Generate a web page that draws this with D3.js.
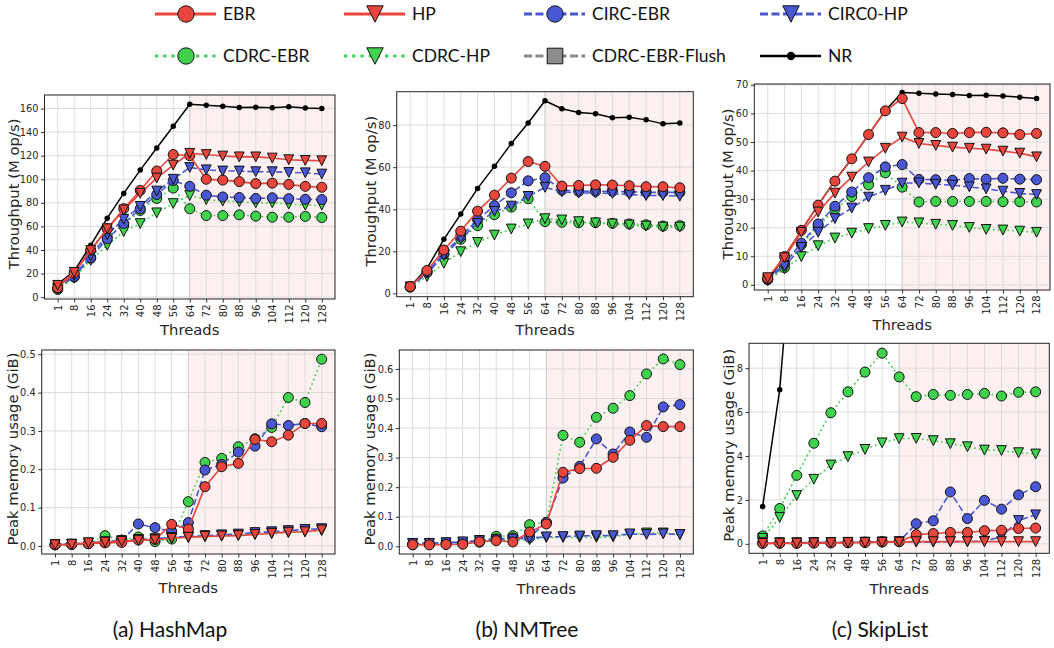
<!DOCTYPE html>
<html><head><meta charset="utf-8">
<script src="https://cdn.jsdelivr.net/npm/d3@7"></script>
<style>body{margin:0;background:#fff} svg{display:block}</style>
</head><body><svg id="c" width="1054" height="648"></svg>
<script>
const threads = [1,8,16,24,32,40,48,56,64,72,80,88,96,104,112,120,128];
const seriesNames = ["EBR","HP","CIRC-EBR","CIRC0-HP","CDRC-EBR","CDRC-HP","CDRC-EBR-Flush","NR"];
const captions = ["(a) HashMap","(b) NMTree","(c) SkipList"];
const thrTicksA = [0,20,40,60,80,100,120,140,160];
const thrTicksB = [0,20,40,60,80];
const thrTicksC = [0,10,20,30,40,50,60,70];
const memTicksA = [0.0,0.1,0.2,0.3,0.4,0.5];
const memTicksB = [0.0,0.1,0.2,0.3,0.4,0.5,0.6];
const memTicksC = [0,2,4,6,8];

// (a) HashMap throughput (M op/s)
const hmThrNR   = [11,22,44,67,88,107.8,126.5,145,163.7,162.8,162,160.8,161,160.6,161.5,160.5,160];
const hmThrEBR  = [8,20.5,40,58,75,90.5,107,121,120,100,99.3,98,96.3,96.7,95.6,94,93.2];
const hmThrHP   = [10,21,39.5,58,74,88,101,112,122,121,119.7,119,119,118,116.6,116,115.7];
const hmThrCE   = [7.5,17.5,33.5,49.5,62.5,75,87,99,94,86.5,85,84.5,83.7,84.3,83.5,83,82.8];
const hmThrCH   = [8,18.5,35,53,66,77,90,100,110,108,107,107,106.4,106.4,105.8,105.5,104.4];
const hmThrDE   = [6.5,17,33,51,61,73.5,83.7,92.5,75,69.2,69.2,69.8,68.7,67.8,67.8,68.5,67.5];
const hmThrDH   = [7,16,31.2,44,55.6,62.4,71.5,79.4,86.2,82.8,81.5,81,80,80,79,78,78];
// (b) NMTree throughput
const nmThrNR   = [3.2,11.9,25.7,37.7,49.9,60.4,71.3,81,91.6,87.8,86,85.4,83.5,83.8,82.5,80.6,81];
const nmThrEBR  = [3.2,10.9,20.6,29.6,39.1,46.7,54.8,62.7,60.4,51,51.3,51.6,51.5,51.2,50.7,50.7,50.2];
const nmThrCE   = [3,10,19,27,35,41.7,47.8,53.5,55,49.1,48.5,48.5,48.5,48.3,48,48,48];
const nmThrCH   = [3,9.5,18,26,33.3,39,41.5,46.1,50.4,48.3,47.7,47.7,47.5,47,46.5,46.5,46.2];
const nmThrDE   = [3,10,18.5,25.7,32.2,37.4,41,45,34.1,33.8,33.6,33.6,33.3,33,32.6,32,32.2];
const nmThrDH   = [3,8,14.3,19.8,24.2,27.7,30.6,33,35.5,34.9,34.1,33.5,33,32.5,32,31.5,31.5];
// (c) SkipList throughput
const slThrNR   = [1.2,10,19,28,36.5,44.2,52.6,61,67.3,67.1,66.8,66.6,66.3,66.4,66.1,65.7,65.2];
const slThrEBR  = [2.3,9.9,19.1,27.9,36.3,44.1,52.6,60.9,65.2,53.3,53.3,53,53.3,53.4,53.2,52.6,53];
const slThrHP   = [2.5,9.5,18.4,25.5,32.1,37.7,43,47.8,51.7,49.5,48.8,48.2,47.8,47.5,46.8,46.1,44.8];
const slThrCE   = [2,7.5,14.6,21.3,27.5,32.5,37.5,41.3,42.1,36.9,36.8,36.6,37.2,37,37.3,37,36.8];
const slThrCH   = [2,6.5,13.1,18.4,23.2,26.9,30.7,33.1,35.6,35.7,35.2,34.9,34.3,33.6,32.8,32,31.6];
const slThrDE   = [1.8,6,14,20.5,26.6,30.9,35,39.2,34.2,29,29.2,29.2,29.2,29.2,29.1,29.1,29];
const slThrDH   = [1.5,5.6,9.9,13.7,16.4,18.1,19.7,20.8,22,21.7,21.2,20.8,20.1,19.4,19.2,18.8,18.4];
// (a) HashMap peak memory (GiB)
const hmMemEBR  = [0.003,0.004,0.006,0.008,0.009,0.0156,0.017,0.0564,0.0443,0.1545,0.2066,0.2153,0.2778,0.2717,0.289,0.3194,0.3194];
const hmMemHP   = [0.003,0.004,0.008,0.01,0.012,0.015,0.016,0.02,0.0226,0.025,0.026,0.027,0.03,0.033,0.036,0.037,0.0417];
const hmMemCE   = [0.003,0.004,0.006,0.01,0.015,0.0573,0.0477,0.0373,0.0608,0.198,0.2127,0.2448,0.2604,0.3186,0.3142,0.3194,0.3108];
const hmMemCH   = [0.003,0.005,0.008,0.011,0.014,0.017,0.019,0.022,0.025,0.027,0.029,0.031,0.035,0.037,0.04,0.043,0.045];
const hmMemDE   = [0.003,0.004,0.006,0.0269,0.015,0.0234,0.0113,0.018,0.1155,0.2179,0.2283,0.2587,0.2795,0.309,0.3872,0.3741,0.487];
const hmMemDH   = [0.003,0.004,0.007,0.009,0.011,0.014,0.016,0.019,0.022,0.024,0.026,0.028,0.03,0.032,0.035,0.037,0.04];
// (b) NMTree peak memory
const nmMemEBR  = [0.0056,0.005,0.006,0.007,0.0158,0.019,0.0147,0.0485,0.0756,0.2504,0.2628,0.2639,0.3011,0.3586,0.4083,0.4049,0.405];
const nmMemCE   = [0.008,0.01,0.012,0.014,0.018,0.025,0.028,0.03,0.081,0.2312,0.2707,0.3631,0.3124,0.3868,0.3688,0.4714,0.4793];
const nmMemCH   = [0.01,0.01,0.012,0.015,0.02,0.022,0.025,0.028,0.032,0.033,0.035,0.036,0.036,0.042,0.04,0.042,0.04];
const nmMemDE   = [0.005,0.006,0.008,0.01,0.014,0.0338,0.036,0.0733,0.081,0.3755,0.3519,0.4364,0.4669,0.5098,0.583,0.6338,0.6146];
const nmMemDH   = [0.008,0.009,0.011,0.013,0.016,0.018,0.02,0.022,0.03,0.03,0.03,0.03,0.032,0.04,0.045,0.045,0.04];
// (c) SkipList peak memory
const slMemNR   = [1.7,7.02,16.5,null,null,null,null,null,null,null,null,null,null,null,null,null,null];
const slMemEBR  = [0.02,0.02,0.02,0.03,0.04,0.05,0.06,0.08,0.1,0.42,0.47,0.52,0.52,0.6,0.62,0.7,0.72];
const slMemHP   = [0.02,0.03,0.03,0.04,0.05,0.06,0.06,0.07,0.08,0.1,0.1,0.1,0.1,0.1,0.1,0.1,0.1];
const slMemCE   = [0.05,0.05,0.05,0.06,0.06,0.07,0.08,0.1,0.1,0.92,1.05,2.36,1.15,1.98,1.58,2.23,2.6];
const slMemCH   = [0.05,0.05,0.05,0.06,0.06,0.07,0.08,0.09,0.1,0.08,0.08,0.1,0.1,0.12,0.33,1.06,1.32];
const slMemDE   = [0.36,1.61,3.12,4.58,5.97,6.92,7.82,8.68,7.6,6.7,6.8,6.76,6.8,6.85,6.73,6.9,6.92];
const slMemDH   = [0.25,1.2,2.2,2.94,3.59,3.97,4.3,4.6,4.79,4.8,4.7,4.56,4.42,4.27,4.25,4.15,4.09];

// ---------- styles ----------
const RED="#e8453c", BLUE="#4a57d2", GREEN="#3fd24c", GRAY="#8a8a8a";
const style = {
  "EBR":{color:RED, fill:RED, dash:null, marker:"circle"},
  "HP":{color:RED, fill:RED, dash:null, marker:"tri"},
  "CIRC-EBR":{color:BLUE, fill:BLUE, dash:"6.5,3", marker:"circle"},
  "CIRC0-HP":{color:BLUE, fill:BLUE, dash:"6.5,3", marker:"tri"},
  "CDRC-EBR":{color:GREEN, fill:GREEN, dash:"1.8,3", marker:"circle"},
  "CDRC-HP":{color:GREEN, fill:GREEN, dash:"1.8,3", marker:"tri"},
  "CDRC-EBR-Flush":{color:GRAY, fill:"#8c8c8c", dash:"6.5,3", marker:"square"},
  "NR":{color:"#000", fill:"#000", dash:null, marker:"dot"}
};
const drawOrder = ["NR","CDRC-EBR","CDRC-HP","CIRC-EBR","CIRC0-HP","EBR","HP"];

const panels = [
  {box:[44.5,95,335,299], y:[-1.6,171.5], ticks:thrTicksA, fmt:d3.format("d"), ylab:"Throughput (M op/s)", ylx:14, xlb:335,
   data:{"NR":hmThrNR,"EBR":hmThrEBR,"HP":hmThrHP,"CIRC-EBR":hmThrCE,"CIRC0-HP":hmThrCH,"CDRC-EBR":hmThrDE,"CDRC-HP":hmThrDH}},
  {box:[396.7,91.7,693.3,296.7], y:[-1.6,95.9], ticks:thrTicksB, fmt:d3.format("d"), ylab:"Throughput (M op/s)", ylx:371, xlb:335,
   data:{"NR":nmThrNR,"EBR":nmThrEBR,"CIRC-EBR":nmThrCE,"CIRC0-HP":nmThrCH,"CDRC-EBR":nmThrDE,"CDRC-HP":nmThrDH}},
  {box:[754.3,84,1050,290], y:[-1.8,70.3], ticks:thrTicksC, fmt:d3.format("d"), ylab:"Throughput (M op/s)", ylx:728, xlb:330,
   data:{"NR":slThrNR,"EBR":slThrEBR,"HP":slThrHP,"CIRC-EBR":slThrCE,"CIRC0-HP":slThrCH,"CDRC-EBR":slThrDE,"CDRC-HP":slThrDH}},
  {box:[41.7,350,335,554], y:[-0.021,0.511], ticks:memTicksA, fmt:d3.format(".1f"), ylab:"Peak memory usage (GiB)", ylx:13, xlb:593,
   data:{"EBR":hmMemEBR,"HP":hmMemHP,"CIRC-EBR":hmMemCE,"CIRC0-HP":hmMemCH,"CDRC-EBR":hmMemDE,"CDRC-HP":hmMemDH}},
  {box:[399.3,350,693.3,554], y:[-0.026,0.664], ticks:memTicksB, fmt:d3.format(".1f"), ylab:"Peak memory usage (GiB)", ylx:370, xlb:594,
   data:{"EBR":nmMemEBR,"CIRC-EBR":nmMemCE,"CIRC0-HP":nmMemCH,"CDRC-EBR":nmMemDE,"CDRC-HP":nmMemDH}},
  {box:[749,343.3,1049.3,553.3], y:[-0.43,9.13], ticks:memTicksC, fmt:d3.format("d"), ylab:"Peak memory usage (GiB)", ylx:729, xlb:594,
   data:{"NR":slMemNR,"EBR":slMemEBR,"HP":slMemHP,"CIRC-EBR":slMemCE,"CIRC0-HP":slMemCH,"CDRC-EBR":slMemDE,"CDRC-HP":slMemDH}}
];

const svg = d3.select("#c");
const TICKF = "DejaVu Sans, sans-serif";
const TXT = "#262626";

function markerPath(type, s){
  if(type==="tri") return `M${-s},${-s}L${s},${-s}L0,${s}Z`;
  if(type==="square") return `M${-s},${-s}H${s}V${s}H${-s}Z`;
  return null;
}
function drawMarker(g, type, x, y, s, st){
  if(type==="circle"){
    g.append("circle").attr("cx",x).attr("cy",y).attr("r",s).attr("fill",st.fill).attr("stroke","#111").attr("stroke-width",1);
  } else if(type==="dot"){
    g.append("circle").attr("cx",x).attr("cy",y).attr("r",s*0.55).attr("fill","#000");
  } else {
    g.append("path").attr("d",markerPath(type,s)).attr("transform",`translate(${x},${y})`).attr("fill",st.fill).attr("stroke","#111").attr("stroke-width",1).attr("stroke-linejoin","miter");
  }
}

panels.forEach((p,pi)=>{
  const [L,T,R,B] = p.box;
  const x = d3.scaleLinear().domain([-0.8,16.8]).range([L,R]);
  const y = d3.scaleLinear().domain(p.y).range([B,T]);
  const g = svg.append("g");
  const cid = "clip"+pi;
  svg.append("defs").append("clipPath").attr("id",cid).append("rect").attr("x",L).attr("y",T).attr("width",R-L).attr("height",B-T);

  // shaded region
  g.append("rect").attr("x",x(8)).attr("y",T).attr("width",R-x(8)).attr("height",B-T).attr("fill","#fdf0f0");
  // grid
  const idx = d3.range(threads.length);
  g.append("g").selectAll("line").data(idx).join("line")
    .attr("x1",d=>x(d)).attr("x2",d=>x(d)).attr("y1",T).attr("y2",B)
    .attr("stroke",d=>d===8?"#c8c8c8":"#dcdcdc").attr("stroke-width",1);
  g.append("g").selectAll("line").data(p.ticks).join("line")
    .attr("x1",L).attr("x2",R).attr("y1",d=>y(d)).attr("y2",d=>y(d))
    .attr("stroke","#dcdcdc").attr("stroke-width",1);

  // axes via d3
  const xAxis = d3.axisBottom(x).tickValues(idx).tickFormat(i=>threads[i]).tickSize(3.5).tickPadding(2);
  const gx = g.append("g").attr("transform",`translate(0,${B})`).call(xAxis);
  gx.select(".domain").remove();
  gx.selectAll(".tick line").attr("stroke","#333");
  gx.selectAll(".tick text").attr("font-family",TICKF).attr("font-size",10).attr("fill",TXT)
    .attr("text-anchor","end").attr("transform","rotate(-90)").attr("x",-5.5).attr("y",0).attr("dy","0.34em");
  const yAxis = d3.axisLeft(y).tickValues(p.ticks).tickFormat(p.fmt).tickSize(3.5).tickPadding(2.5);
  const gy = g.append("g").attr("transform",`translate(${L},0)`).call(yAxis);
  gy.select(".domain").remove();
  gy.selectAll(".tick line").attr("stroke","#333");
  gy.selectAll(".tick text").attr("font-family",TICKF).attr("font-size",9.8).attr("fill",TXT);

  // series
  const sg = g.append("g").attr("clip-path",`url(#${cid})`);
  drawOrder.forEach(name=>{
    const vals = p.data[name];
    if(!vals) return;
    const st = style[name];
    const pts = vals.map((v,i)=>({i,v}));
    const line = d3.line().defined(d=>d.v!=null).x(d=>x(d.i)).y(d=>y(d.v));
    const s = sg.append("g");
    s.append("path").attr("d",line(pts)).attr("fill","none").attr("stroke",st.color)
      .attr("stroke-width", name==="NR"?1.5:1.6).attr("stroke-dasharray",st.dash);
    pts.filter(d=>d.v!=null).forEach(d=>drawMarker(s, st.marker, x(d.i), y(d.v), st.marker==="tri"?4.9:5, st));
  });

  // frame
  g.append("rect").attr("x",L).attr("y",T).attr("width",R-L).attr("height",B-T).attr("fill","none").attr("stroke","#222").attr("stroke-width",1);

  // labels
  g.append("text").attr("transform",`translate(${p.ylx},${(T+B)/2-3}) rotate(-90)`).attr("text-anchor","middle").attr("dy","0.36em")
    .attr("font-family",TICKF).attr("font-size",14.8).attr("fill",TXT).text(p.ylab);
  g.append("text").attr("x",(L+R)/2).attr("y",p.xlb).attr("text-anchor","middle")
    .attr("font-family",TICKF).attr("font-size",14.8).attr("fill",TXT).text("Threads");
});

// captions
const capX = [170,527,880];
captions.forEach((c,i)=>{
  svg.append("text").attr("x",capX[i]).attr("y",637).attr("text-anchor","middle")
    .attr("font-family","Lato, sans-serif").attr("font-size",21).attr("fill","#111").text(c);
});

// legend
const legCols = [155,344,524,760];
const legRows = [14,56];
const lg = svg.append("g");
seriesNames.forEach((name,k)=>{
  const cx = legCols[k%4], cy = legRows[Math.floor(k/4)];
  const st = style[name];
  const dash = st.dash===null?null:(st.color===GREEN?"3.2,5":"8,3.5");
  lg.append("line").attr("x1",cx).attr("x2",cx+61).attr("y1",cy).attr("y2",cy)
    .attr("stroke",st.color).attr("stroke-width",name==="NR"?2.6:3).attr("stroke-dasharray",dash);
  const mg = lg.append("g");
  if(st.marker==="dot") mg.append("circle").attr("cx",cx+31).attr("cy",cy).attr("r",4.2).attr("fill","#000");
  else drawMarker(mg, st.marker, cx+31, cy, st.marker==="square"?7.8:8.2, st);
  lg.append("text").attr("x",cx+68).attr("y",cy).attr("dy","0.36em").attr("font-family","Lato, sans-serif")
    .attr("font-size",17.5).attr("fill","#111").text(name);
});
</script></body></html>
